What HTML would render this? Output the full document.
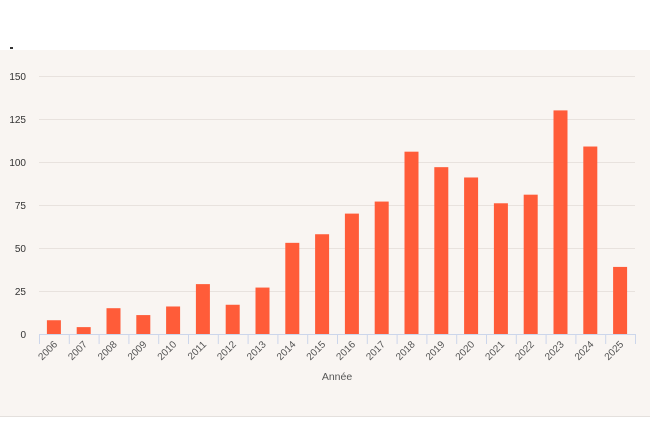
<!DOCTYPE html>
<html><head><style>
html,body{margin:0;padding:0;background:#fff;}
svg{display:block;font-family:"Liberation Sans",sans-serif;}
</style></head><body>
<svg width="650" height="433" viewBox="0 0 650 433">
<rect x="0" y="50" width="650" height="366" fill="#f9f5f2"/>
<line x1="0" y1="416.5" x2="650" y2="416.5" stroke="#e4e0dd"/>
<rect x="10" y="47" width="3" height="2" fill="#333"/>
<g stroke="#e8e2de" stroke-width="1">
<line x1="39" y1="76.5" x2="635" y2="76.5"/>
<line x1="39" y1="119.5" x2="635" y2="119.5"/>
<line x1="39" y1="162.5" x2="635" y2="162.5"/>
<line x1="39" y1="205.5" x2="635" y2="205.5"/>
<line x1="39" y1="248.5" x2="635" y2="248.5"/>
<line x1="39" y1="291.5" x2="635" y2="291.5"/>
</g>
<g font-size="10" fill="#333" text-anchor="end">
<text x="26" y="80">150</text><text x="26" y="123">125</text><text x="26" y="166">100</text>
<text x="26" y="209">75</text><text x="26" y="252">50</text><text x="26" y="295">25</text><text x="26" y="338">0</text>
</g>
<g id="bars" fill="#ff5c39"></g>
<line x1="39" y1="334.5" x2="635" y2="334.5" stroke="#ccd6eb"/>
<g id="ticks" stroke="#ccd6eb"></g>
<g id="labels" font-size="10" fill="#555"></g>
<text x="337" y="380" font-size="10.5" fill="#555" text-anchor="middle">Année</text>
</svg>
<script>
var v=[8,4,15,11,16,29,17,27,53,58,70,77,106,97,91,76,81,130,109,39];
var b=document.getElementById('bars'),t=document.getElementById('ticks'),l=document.getElementById('labels'),ns='http://www.w3.org/2000/svg';
var w=29.8;
for(var i=0;i<20;i++){
 var c=39+w*(i+0.5),h=v[i]*1.72;
 var r=document.createElementNS(ns,'rect');r.setAttribute('x',c-7);r.setAttribute('y',334-h);r.setAttribute('width',14);r.setAttribute('height',h);b.appendChild(r);
 var x=39+w*i;var ln=document.createElementNS(ns,'line');ln.setAttribute('x1',x+0.5);ln.setAttribute('x2',x+0.5);ln.setAttribute('y1',334);ln.setAttribute('y2',344);t.appendChild(ln);
 var tx=document.createElementNS(ns,'text');tx.setAttribute('text-anchor','end');tx.setAttribute('transform','translate('+(c+4)+',345) rotate(-45)');tx.textContent=2006+i;l.appendChild(tx);
}
var ln=document.createElementNS(ns,'line');ln.setAttribute('x1',635.5);ln.setAttribute('x2',635.5);ln.setAttribute('y1',334);ln.setAttribute('y2',344);t.appendChild(ln);
</script>
</body></html>
